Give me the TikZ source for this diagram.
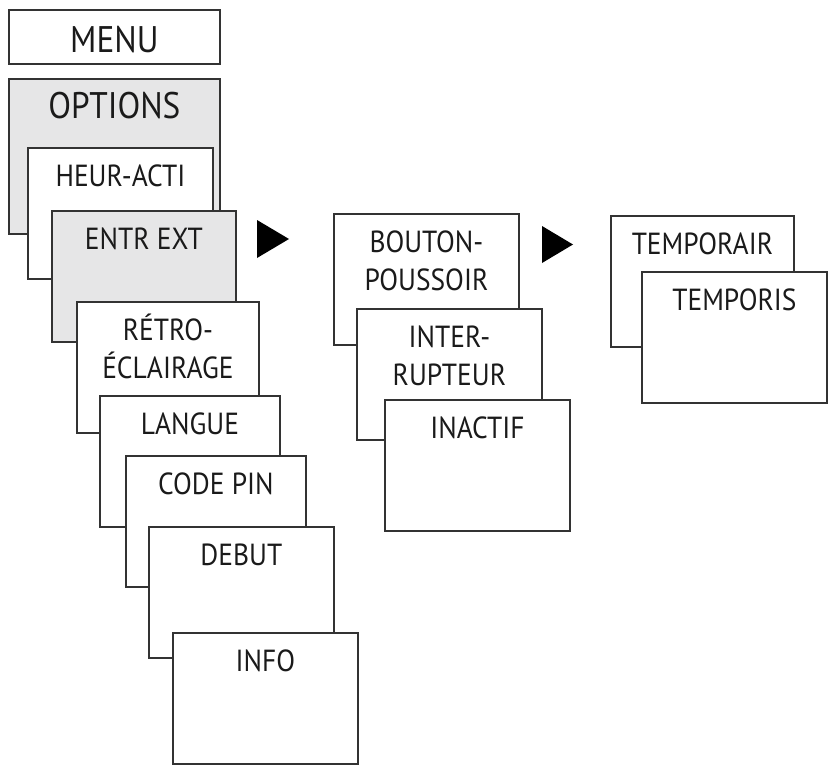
\documentclass[tikz,border=0pt]{standalone}
\usepackage{fontspec}
\usepackage{tikz}
\usetikzlibrary{positioning, calc}
\newfontfamily\panelfont{PT Sans}[FakeStretch=0.9]
\definecolor{linecol}{HTML}{333333}
\definecolor{panelgray}{HTML}{E6E6E7}
\definecolor{textcol}{HTML}{1A1A1A}
\newcommand{\capstrut}{\rule{0pt}{30pt}}
\tikzset{
  % one screen of the menu
  panel/.style={rectangle, draw=linecol, fill=#1, line width=1.8pt,
                anchor=north west, inner sep=0pt, minimum height=131pt},
  panel/.default=white,
  % text at the top of a screen (first baseline 30pt under the anchor)
  caption/.style={anchor=north, align=center, inner sep=0pt, text=textcol,
                  font=\fontsize{30.5}{38.5}\selectfont\panelfont},
  bigcaption/.style={caption, font=\fontsize{37}{44}\selectfont\panelfont},
  % black pointer between levels
  pointer/.style={fill=black},
}
\newcommand{\menustack}[1]{%
  \foreach \nm/\x/\y/\w/\fc/\txt in {#1}{
    \node[panel=\fc, minimum width=\w pt] (\nm) at (\x,\y) {};
    \node[caption] (\nm-txt) at ($(\nm.north)+(0,9)$) {\capstrut\txt};
  }%
}

\begin{document}
\begin{tikzpicture}[x=1pt, y=-1pt]
  \useasboundingbox (0,0) rectangle (834,770);
  % top level
  \node[panel, minimum width=211pt, minimum height=54pt] (menu) at (8,9) {};
  \node[bigcaption] (menu-txt) at ($(menu.north)+(0,13)$) {\capstrut MENU};
  \node[panel=panelgray, minimum width=211pt, minimum height=155pt] (options) at (8,78) {};
  \node[bigcaption] (options-txt) at ($(options.north)+(0,10)$) {\capstrut OPTIONS};
  % options list
  \menustack{heur/27/147/185/white/HEUR-ACTI,
             entr/51/210/184/panelgray/ENTR EXT,
             retro/76/301/182/white/{RÉTRO-\\ÉCLAIRAGE},
             langue/99/395/180/white/LANGUE,
             code/125/455/180/white/CODE PIN,
             debut/148/526/185/white/DEBUT,
             info/172/632/185/white/INFO}
  \fill[pointer] (257,220) -- (289,239) -- (257,258) -- cycle;
  % external input
  \menustack{bouton/333/213/185/white/{BOUTON-\\POUSSOIR},
             inter/356/308/185/white/{INTER-\\RUPTEUR},
             inactif/384/399/185/white/INACTIF}
  \fill[pointer] (542,226) -- (573,244.5) -- (542,263) -- cycle;
  % push button mode
  \menustack{temporair/610/215/183/white/TEMPORAIR,
             temporis/641/271/185/white/TEMPORIS}
\end{tikzpicture}
\end{document}
